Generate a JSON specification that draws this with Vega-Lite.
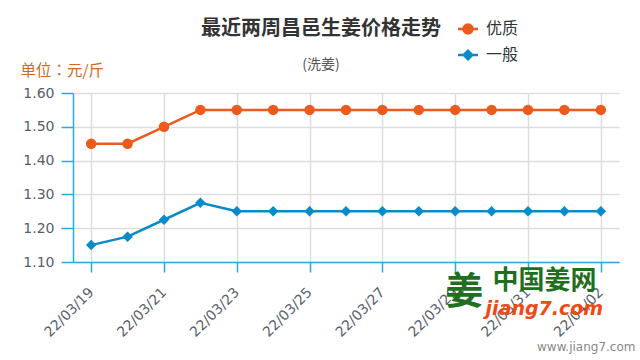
{
  "$schema": "https://vega.github.io/schema/vega-lite/v6.json",
  "autosize": {"type": "none"},
  "width": 546,
  "height": 169,
  "padding": {"left": 73, "top": 93, "right": 21, "bottom": 98},
  "background": "#ffffff",
  "config": {
    "view": {"stroke": null},
    "font": "Noto Sans CJK SC"
  },
  "title": {
    "text": "最近两周昌邑生姜价格走势",
    "subtitle": "(洗姜)",
    "anchor": "middle",
    "frame": "group",
    "dx": -25,
    "offset": -51,
    "font": "Noto Sans CJK SC",
    "fontSize": 20,
    "fontWeight": "bold",
    "color": "#333333",
    "subtitleFont": "Noto Sans CJK SC",
    "subtitleFontSize": 14,
    "subtitleColor": "#555555",
    "subtitlePadding": 19
  },
  "datasets": {
    "prices": [
      {"date": "22/03/19", "grade": "优质", "price": 1.45},
      {"date": "22/03/20", "grade": "优质", "price": 1.45},
      {"date": "22/03/21", "grade": "优质", "price": 1.50},
      {"date": "22/03/22", "grade": "优质", "price": 1.55},
      {"date": "22/03/23", "grade": "优质", "price": 1.55},
      {"date": "22/03/24", "grade": "优质", "price": 1.55},
      {"date": "22/03/25", "grade": "优质", "price": 1.55},
      {"date": "22/03/26", "grade": "优质", "price": 1.55},
      {"date": "22/03/27", "grade": "优质", "price": 1.55},
      {"date": "22/03/28", "grade": "优质", "price": 1.55},
      {"date": "22/03/29", "grade": "优质", "price": 1.55},
      {"date": "22/03/30", "grade": "优质", "price": 1.55},
      {"date": "22/03/31", "grade": "优质", "price": 1.55},
      {"date": "22/04/01", "grade": "优质", "price": 1.55},
      {"date": "22/04/02", "grade": "优质", "price": 1.55},
      {"date": "22/03/19", "grade": "一般", "price": 1.15},
      {"date": "22/03/20", "grade": "一般", "price": 1.175},
      {"date": "22/03/21", "grade": "一般", "price": 1.225},
      {"date": "22/03/22", "grade": "一般", "price": 1.275},
      {"date": "22/03/23", "grade": "一般", "price": 1.25},
      {"date": "22/03/24", "grade": "一般", "price": 1.25},
      {"date": "22/03/25", "grade": "一般", "price": 1.25},
      {"date": "22/03/26", "grade": "一般", "price": 1.25},
      {"date": "22/03/27", "grade": "一般", "price": 1.25},
      {"date": "22/03/28", "grade": "一般", "price": 1.25},
      {"date": "22/03/29", "grade": "一般", "price": 1.25},
      {"date": "22/03/30", "grade": "一般", "price": 1.25},
      {"date": "22/03/31", "grade": "一般", "price": 1.25},
      {"date": "22/04/01", "grade": "一般", "price": 1.25},
      {"date": "22/04/02", "grade": "一般", "price": 1.25}
    ]
  },
  "encoding": {
    "x": {
      "field": "date",
      "type": "ordinal",
      "scale": {"type": "point", "padding": 0.5},
      "axis": {
        "values": ["22/03/19", "22/03/21", "22/03/23", "22/03/25", "22/03/27", "22/03/29", "22/03/31", "22/04/02"],
        "labelAngle": -45,
        "labelFont": "DejaVu Sans",
        "labelFontSize": 14,
        "labelColor": "#56606b",
        "labelPadding": 13,
        "labelOffset": -5,
        "tickColor": "#29abe2",
        "tickSize": 10,
        "tickWidth": 1.5,
        "domainColor": "#29abe2",
        "domainWidth": 1.5,
        "grid": true,
        "gridColor": "#dddddd",
        "gridWidth": 1.5,
        "title": "www.jiang7.com",
        "titleFont": "DejaVu Sans",
        "titleFontSize": 12,
        "titleFontWeight": "normal",
        "titleColor": "#888888",
        "titleAnchor": null,
        "titleAlign": "right",
        "titleBaseline": "middle",
        "titleX": 562,
        "titleY": 84
      }
    },
    "y": {
      "field": "price",
      "type": "quantitative",
      "scale": {"domain": [1.1, 1.6], "zero": false, "nice": false},
      "axis": {
        "values": [1.1, 1.2, 1.3, 1.4, 1.5, 1.6],
        "format": ".2f",
        "labelFont": "DejaVu Sans",
        "labelFontSize": 14,
        "labelColor": "#56606b",
        "labelPadding": 7,
        "tickColor": "#29abe2",
        "tickSize": 12,
        "tickWidth": 1.5,
        "domainColor": "#29abe2",
        "domainWidth": 1.5,
        "grid": true,
        "gridColor": "#dddddd",
        "gridWidth": 1.5,
        "title": "单位：元/斤",
        "titleFont": "Noto Sans CJK TC",
        "titleFontSize": 15.5,
        "titleFontWeight": "normal",
        "titleColor": "#d2691e",
        "titleAngle": 0,
        "titleAnchor": null,
        "titleAlign": "left",
        "titleBaseline": "middle",
        "titleX": -53,
        "titleY": -23
      }
    }
  },
  "layer": [
    {
      "data": {"name": "prices"},
      "transform": [{"filter": "false"}],
      "mark": {"type": "point", "filled": true, "opacity": 1, "strokeWidth": 2.5},
      "encoding": {
        "color": {
          "field": "grade",
          "type": "nominal",
          "scale": {"domain": ["优质", "一般"], "range": ["#ec5a1e", "#0a8bc9"]},
          "legend": {
            "title": null,
            "orient": "none",
            "legendX": 387,
            "legendY": -72,
            "direction": "vertical",
            "labelFont": "Noto Sans CJK SC",
            "labelFontSize": 16,
            "labelColor": "#333333",
            "labelOffset": 10,
            "rowPadding": 6,
            "symbolSize": 100,
            "symbolStrokeWidth": 2.5
          }
        },
        "stroke": {
          "field": "grade",
          "type": "nominal",
          "scale": {"domain": ["优质", "一般"], "range": ["#ec5a1e", "#0a8bc9"]},
          "legend": {
            "title": null,
            "orient": "none",
            "legendX": 387,
            "legendY": -72,
            "direction": "vertical",
            "labelFont": "Noto Sans CJK SC",
            "labelFontSize": 16,
            "labelColor": "#333333",
            "labelOffset": 10,
            "rowPadding": 6,
            "symbolSize": 100,
            "symbolStrokeWidth": 2.5
          }
        },
        "shape": {
          "field": "grade",
          "type": "nominal",
          "scale": {
            "domain": ["优质", "一般"],
            "range": [
              "M-2,0L2,0M-0.9,0A0.9,0.9,0,1,0,0.9,0A0.9,0.9,0,1,0,-0.9,0Z",
              "M-2,0L2,0M-0.85,0L0,-0.85L0.85,0L0,0.85Z"
            ]
          },
          "legend": {
            "title": null,
            "orient": "none",
            "legendX": 387,
            "legendY": -72,
            "direction": "vertical",
            "labelFont": "Noto Sans CJK SC",
            "labelFontSize": 16,
            "labelColor": "#333333",
            "labelOffset": 10,
            "rowPadding": 6,
            "symbolSize": 100,
            "symbolStrokeWidth": 2.5
          }
        }
      }
    },
    {
      "data": {"name": "prices"},
      "mark": {"type": "line", "strokeWidth": 2.5},
      "encoding": {
        "color": {
          "field": "grade",
          "type": "nominal",
          "scale": {"domain": ["优质", "一般"], "range": ["#ec5a1e", "#0a8bc9"]},
          "legend": null
        }
      }
    },
    {
      "data": {"name": "prices"},
      "transform": [{"filter": "datum.grade === '优质'"}],
      "mark": {"type": "point", "shape": "circle", "filled": true, "opacity": 1, "size": 110},
      "encoding": {
        "color": {
          "field": "grade",
          "type": "nominal",
          "scale": {"domain": ["优质", "一般"], "range": ["#ec5a1e", "#0a8bc9"]},
          "legend": null
        }
      }
    },
    {
      "data": {"name": "prices"},
      "transform": [{"filter": "datum.grade === '一般'"}],
      "mark": {"type": "point", "shape": "diamond", "filled": true, "opacity": 1, "size": 110},
      "encoding": {
        "color": {
          "field": "grade",
          "type": "nominal",
          "scale": {"domain": ["优质", "一般"], "range": ["#ec5a1e", "#0a8bc9"]},
          "legend": null
        }
      }
    },
    {
      "data": {"values": [{"date": "22/03/29", "price": 1.008, "label": "姜"}]},
      "mark": {"type": "text", "font": "Noto Sans CJK SC", "fontSize": 38, "fontWeight": "bold", "color": "#1f6f1f", "align": "center", "baseline": "middle", "dx": 9},
      "encoding": {"text": {"field": "label"}}
    },
    {
      "data": {"values": [{"date": "22/03/30", "price": 1.043, "label": "中国姜网"}]},
      "mark": {"type": "text", "font": "Noto Sans CJK SC", "fontSize": 26, "fontWeight": "bold", "color": "#1f6f1f", "align": "left", "baseline": "middle", "dx": 1},
      "encoding": {"text": {"field": "label"}}
    },
    {
      "data": {"values": [{"date": "22/03/30", "price": 0.96, "label": "jiang7.com"}]},
      "mark": {"type": "text", "font": "DejaVu Sans", "fontSize": 19, "fontWeight": "bold", "fontStyle": "italic", "color": "#f04a14", "align": "left", "baseline": "middle", "dx": -6},
      "encoding": {"text": {"field": "label"}}
    }
  ]
}
